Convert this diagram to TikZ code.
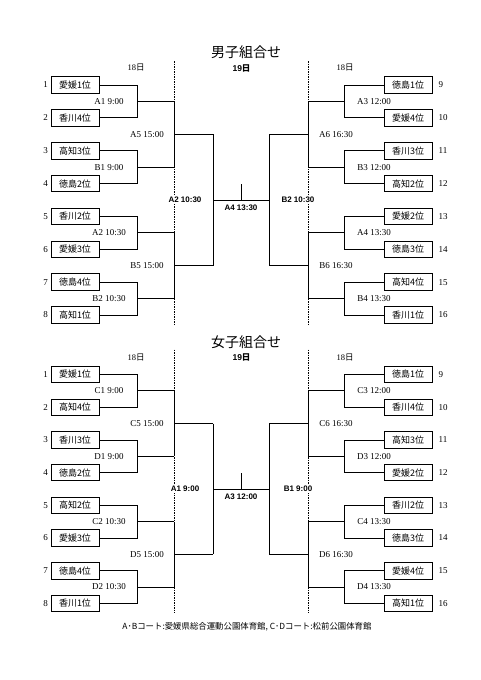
\documentclass[tikz,border=0pt]{standalone}
\usepackage{fontspec}
\setmainfont{Liberation Serif}
\setsansfont{Liberation Sans}
\newfontfamily\jp{Noto Sans CJK JP}
\usetikzlibrary{positioning, calc}
\tikzset{
  % Team boxes
  team/.style={
    rectangle, draw=black, fill=white, line width=0.9pt,
    minimum width=48pt, minimum height=16.5pt, inner sep=0pt,
    font=\jp\fontsize{9}{9}\selectfont,
  },
  % Seed numbers
  seed/.style={font=\fontsize{9}{9}\selectfont, inner sep=1pt},
  % Match slots
  slot/.style={font=\fontsize{9}{9}\selectfont, inner sep=1pt},
  finalslot/.style={font=\sffamily\bfseries\fontsize{8}{8}\selectfont,
    fill=white, inner sep=1.5pt},
  % Lines
  bline/.style={line width=0.8pt},
  dayline/.style={line width=0.6pt, dash pattern=on 1.5pt off 1pt},
  % Headings
  daylabel/.style={font=\fontsize{8.5}{8.5}\selectfont},
  dayboldlabel/.style={font=\sffamily\bfseries\fontsize{8.5}{8.5}\selectfont},
  ttl/.style={font=\jp\fontsize{14}{14}\selectfont},
  note/.style={font=\jp\fontsize{8.4}{8.4}\selectfont},
}

\begin{document}
\begin{tikzpicture}[x=1pt, y=-1pt]
  \path[fill=white, use as bounding box] (0,0) rectangle (481,680);

  % ===== Men =====
  \node[ttl] (Mtitle) at (246,52) {男子組合せ};
  \node[daylabel] (MdayL) at (136,68) {18{\jp 日}};
  \node[daylabel] (MdayR) at (345,68) {18{\jp 日}};
  \node[dayboldlabel] (Mday) at (241.5,68) {19{\jp\bfseries 日}};

  % day boundaries
  \coordinate (MdLt) at (174,61); \coordinate (MdLb) at (174,324);
  \coordinate (MdRt) at (308,61); \coordinate (MdRb) at (308,324);
  \draw[dayline] (MdLt) -- (MdLb);
  \draw[dayline] (MdRt) -- (MdRb);

  % teams
  \foreach \i/\tn in {1/愛媛1位, 2/香川4位, 3/高知3位, 4/徳島2位,
                      5/香川2位, 6/愛媛3位, 7/徳島4位, 8/高知1位}{
    \node[team] (M\i) at (75,{85+32.86*(\i-1)}) {\tn};
    \node[seed, left=1.5pt of M\i] (Mn\i) {\i};
  }
  \foreach \i/\tn in {9/徳島1位, 10/愛媛4位, 11/香川3位, 12/高知2位,
                      13/愛媛2位, 14/徳島3位, 15/高知4位, 16/香川1位}{
    \node[team] (M\i) at (408,{85+32.86*(\i-9)}) {\tn};
    \node[seed, right=5pt of M\i] (Mn\i) {\i};
  }

  % 1st round
  \foreach \a/\b/\r/\lab in {1/2/1/A1 9:00, 3/4/2/B1 9:00, 5/6/3/A2 10:30, 7/8/4/B2 10:30}{
    \coordinate (Mj\r) at ($(M\a.east)!.5!(M\b.east)+(38,0)$);
    \draw[bline] (M\a.east) -| (Mj\r) |- (M\b.east);
    \coordinate (Mw\r) at (Mj\r -| MdLt);
    \draw[bline] (Mj\r) -- (Mw\r);
    \node[slot] (Mt\r) at ($(Mj\r)+(-28.5,0)$) {\lab};
  }
  \foreach \a/\b/\r/\lab in {9/10/5/A3 12:00, 11/12/6/B3 12:00, 13/14/7/A4 13:30, 15/16/8/B4 13:30}{
    \coordinate (Mj\r) at ($(M\a.west)!.5!(M\b.west)+(-39,0)$);
    \draw[bline] (M\a.west) -| (Mj\r) |- (M\b.west);
    \coordinate (Mw\r) at (Mj\r -| MdRt);
    \draw[bline] (Mj\r) -- (Mw\r);
    \node[slot] (Mt\r) at ($(Mj\r)+(29.5,0)$) {\lab};
  }

  % 2nd round
  \foreach \a/\b/\r/\lab/\dx/\tx in {1/2/1/A5 15:00/39/-27, 3/4/2/B5 15:00/39/-27,
                                     5/6/3/A6 16:30/-39/28, 7/8/4/B6 16:30/-39/28}{
    \draw[bline] (Mw\a) -- (Mw\b);
    \coordinate (Ms\r) at ($(Mw\a)!.5!(Mw\b)$);
    \coordinate (Mq\r) at ($(Ms\r)+(\dx,0)$);
    \draw[bline] (Ms\r) -- (Mq\r);
    \node[slot] (Mu\r) at ($(Ms\r)+(\tx,0)$) {\lab};
  }

  % semi-finals and final
  \draw[bline] (Mq1) -- (Mq2);
  \draw[bline] (Mq3) -- (Mq4);
  \coordinate (MfL) at ($(Mq1)!.5!(Mq2)$);
  \coordinate (MfR) at ($(Mq3)!.5!(Mq4)$);
  \draw[bline] (MfL) -- (MfR);
  \coordinate (Mc) at ($(MfL)!.5!(MfR)$);
  \coordinate (Mtop) at ($(Mc)+(0,-16)$);
  \draw[bline] (Mc) -- (Mtop);
  \node[finalslot, xshift=11pt] (MsL) at (MfL -| MdLt) {A2 10:30};
  \node[finalslot, xshift=-10pt] (MsR) at (MfR -| MdRt) {B2 10:30};
  \node[finalslot, fill=none, below=3pt of Mc] (Mfin) {A4 13:30};

  % ===== Women =====
  \begin{scope}[yshift=-289.5pt]
  \node[ttl] (Wtitle) at (246,53) {女子組合せ};
  \node[daylabel] (WdayL) at (136,68) {18{\jp 日}};
  \node[daylabel] (WdayR) at (345,68) {18{\jp 日}};
  \node[dayboldlabel] (Wday) at (241.5,68) {19{\jp\bfseries 日}};

  \coordinate (WdLt) at (174,60); \coordinate (WdLb) at (174,323);
  \coordinate (WdRt) at (308,60); \coordinate (WdRb) at (308,323);
  \draw[dayline] (WdLt) -- (WdLb);
  \draw[dayline] (WdRt) -- (WdRb);

  \foreach \i/\tn in {1/愛媛1位, 2/高知4位, 3/香川3位, 4/徳島2位,
                      5/高知2位, 6/愛媛3位, 7/徳島4位, 8/香川1位}{
    \node[team] (W\i) at (75,{85+32.7*(\i-1)}) {\tn};
    \node[seed, left=1.5pt of W\i] (Wn\i) {\i};
  }
  \foreach \i/\tn in {9/徳島1位, 10/香川4位, 11/高知3位, 12/愛媛2位,
                      13/香川2位, 14/徳島3位, 15/愛媛4位, 16/高知1位}{
    \node[team] (W\i) at (408,{85+32.7*(\i-9)}) {\tn};
    \node[seed, right=5pt of W\i] (Wn\i) {\i};
  }
  \end{scope}

  \foreach \a/\b/\r/\lab in {1/2/1/C1 9:00, 3/4/2/D1 9:00, 5/6/3/C2 10:30, 7/8/4/D2 10:30}{
    \coordinate (Wj\r) at ($(W\a.east)!.5!(W\b.east)+(38,0)$);
    \draw[bline] (W\a.east) -| (Wj\r) |- (W\b.east);
    \coordinate (Ww\r) at (Wj\r -| WdLt);
    \draw[bline] (Wj\r) -- (Ww\r);
    \node[slot] (Wt\r) at ($(Wj\r)+(-28.5,0)$) {\lab};
  }
  \foreach \a/\b/\r/\lab in {9/10/5/C3 12:00, 11/12/6/D3 12:00, 13/14/7/C4 13:30, 15/16/8/D4 13:30}{
    \coordinate (Wj\r) at ($(W\a.west)!.5!(W\b.west)+(-39,0)$);
    \draw[bline] (W\a.west) -| (Wj\r) |- (W\b.west);
    \coordinate (Ww\r) at (Wj\r -| WdRt);
    \draw[bline] (Wj\r) -- (Ww\r);
    \node[slot] (Wt\r) at ($(Wj\r)+(29.5,0)$) {\lab};
  }

  \foreach \a/\b/\r/\lab/\dx/\tx in {1/2/1/C5 15:00/39/-27, 3/4/2/D5 15:00/39/-27,
                                     5/6/3/C6 16:30/-39/28, 7/8/4/D6 16:30/-39/28}{
    \draw[bline] (Ww\a) -- (Ww\b);
    \coordinate (Ws\r) at ($(Ww\a)!.5!(Ww\b)$);
    \coordinate (Wq\r) at ($(Ws\r)+(\dx,0)$);
    \draw[bline] (Ws\r) -- (Wq\r);
    \node[slot] (Wu\r) at ($(Ws\r)+(\tx,0)$) {\lab};
  }

  \draw[bline] (Wq1) -- (Wq2);
  \draw[bline] (Wq3) -- (Wq4);
  \coordinate (WfL) at ($(Wq1)!.5!(Wq2)$);
  \coordinate (WfR) at ($(Wq3)!.5!(Wq4)$);
  \draw[bline] (WfL) -- (WfR);
  \coordinate (Wc) at ($(WfL)!.5!(WfR)$);
  \coordinate (Wtop) at ($(Wc)+(0,-16)$);
  \draw[bline] (Wc) -- (Wtop);
  \node[finalslot, xshift=11pt] (WsL) at (WfL -| WdLt) {A1 9:00};
  \node[finalslot, xshift=-10pt] (WsR) at (WfR -| WdRt) {B1 9:00};
  \node[finalslot, fill=none, below=3pt of Wc] (Wfin) {A3 12:00};

  % venues
  \node[note] (venue) at (247,627) {A･Bコート:愛媛県総合運動公園体育館, C･Dコート:松前公園体育館};
\end{tikzpicture}
\end{document}
